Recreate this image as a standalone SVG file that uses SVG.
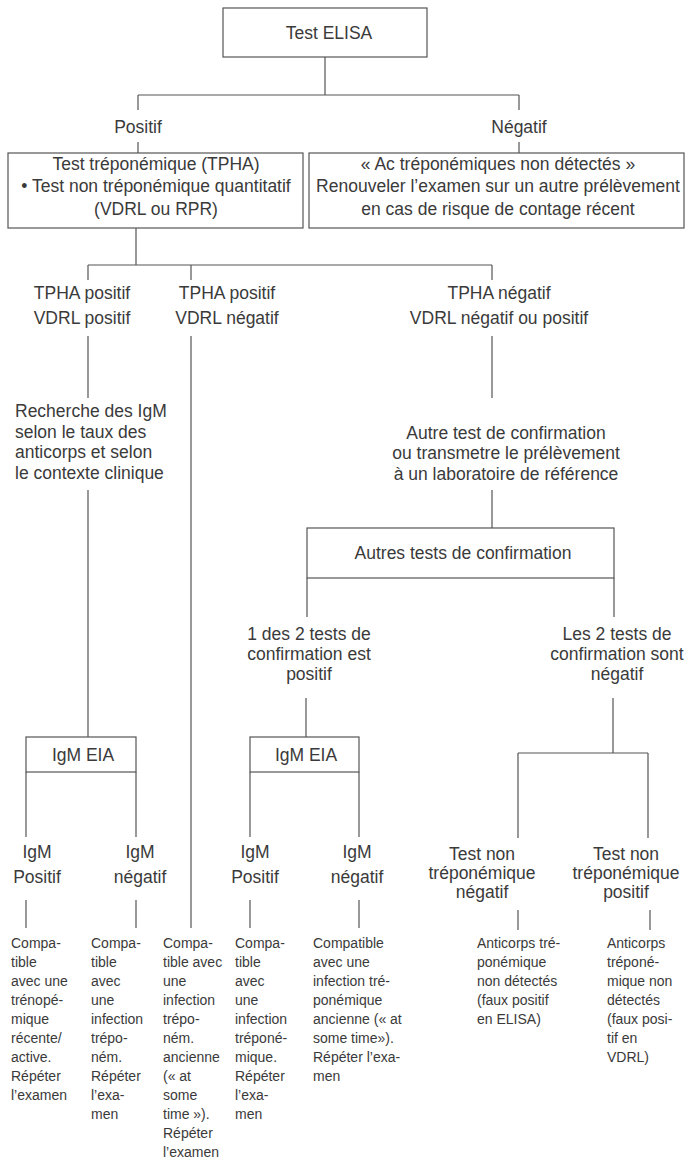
<svg xmlns="http://www.w3.org/2000/svg" width="687" height="1173" viewBox="0 0 687 1173">
<style>
.box{fill:none;stroke:#555;stroke-width:1.2}
.ln{fill:none;stroke:#555;stroke-width:1.2}
text{font-family:"Liberation Sans",Arial,sans-serif;fill:#3a3a3a}
.h{font-size:17.5px;text-anchor:middle}
.hl{font-size:17.5px}
.s{font-size:14px}
</style>
<rect width="687" height="1173" fill="#ffffff"/>
<g id="connectors">
<path class="ln" d="M325 57V95M138 95H519M138 95V110M519 95V110M138 142V153M519 142V153"/>
<path class="ln" d="M136 228V265M88 265H492M88 265V280M191 265V280M492 265V280"/>
<path class="ln" d="M88 336V398M88 490V737M191 336V928M492 336V398M492 490V528"/>
<path class="ln" d="M307 578V617M614 578V617M306 698V737M613 698V753M518 753H648M518 753V838M648 753V838"/>
<path class="ln" d="M26 772V837M136 772V837M250 772V837M359 772V837"/>
<path class="ln" d="M26 900V928M136 900V928M250 900V928M359 900V928M518 910V930M650 910V930"/>
</g>
<g id="elisa"><rect class="box" x="223" y="8" width="204" height="49"/><text class="h" x="329" y="39">Test ELISA</text></g>
<g id="positif"><text class="h" x="138" y="133">Positif</text></g>
<g id="negatif"><text class="h" x="519" y="133">Négatif</text></g>
<g id="tpha-box"><rect class="box" x="8" y="153" width="295" height="75"/>
<text class="h" x="156" y="170">Test tréponémique (TPHA)</text>
<text class="h" x="156" y="192">• Test non tréponémique quantitatif</text>
<text class="h" x="156" y="215">(VDRL ou RPR)</text></g>
<g id="neg-box"><rect class="box" x="309" y="153" width="375" height="75"/>
<text class="h" x="498" y="170">« Ac tréponémiques non détectés »</text>
<text class="h" x="498" y="192">Renouveler l’examen sur un autre prélèvement</text>
<text class="h" x="498" y="215">en cas de risque de contage récent</text></g>
<g id="pp"><text class="h" x="82" y="299">TPHA positif</text><text class="h" x="82" y="324">VDRL positif</text></g>
<g id="pn"><text class="h" x="227" y="299">TPHA positif</text><text class="h" x="227" y="324">VDRL négatif</text></g>
<g id="nn"><text class="h" x="499" y="299">TPHA négatif</text><text class="h" x="499" y="324">VDRL négatif ou positif</text></g>
<g id="recherche"><text class="hl" x="15" y="417">Recherche des IgM</text><text class="hl" x="15" y="438">selon le taux des</text><text class="hl" x="15" y="458">anticorps et selon</text><text class="hl" x="15" y="479">le contexte clinique</text></g>
<g id="autre"><text class="h" x="506" y="439">Autre test de confirmation</text><text class="h" x="506" y="459">ou transmetre le prélèvement</text><text class="h" x="506" y="480">à un laboratoire de référence</text></g>
<g id="autres-box"><rect class="box" x="307" y="528" width="307" height="50"/><text class="h" x="463" y="559">Autres tests de confirmation</text></g>
<g id="un-des-2"><text class="h" x="309" y="640">1 des 2 tests de</text><text class="h" x="309" y="660">confirmation est</text><text class="h" x="309" y="680">positif</text></g>
<g id="les-2"><text class="h" x="617" y="640">Les 2 tests de</text><text class="h" x="617" y="660">confirmation sont</text><text class="h" x="617" y="680">négatif</text></g>
<g id="igm1"><rect class="box" x="26" y="737" width="110" height="35"/><text class="h" x="83" y="761">IgM EIA</text></g>
<g id="igm2"><rect class="box" x="250" y="737" width="109" height="35"/><text class="h" x="306" y="761">IgM EIA</text></g>
<g id="igm1p"><text class="h" x="37" y="858">IgM</text><text class="h" x="37" y="883">Positif</text></g>
<g id="igm1n"><text class="h" x="140" y="858">IgM</text><text class="h" x="140" y="883">négatif</text></g>
<g id="igm2p"><text class="h" x="255" y="858">IgM</text><text class="h" x="255" y="883">Positif</text></g>
<g id="igm2n"><text class="h" x="357" y="858">IgM</text><text class="h" x="357" y="883">négatif</text></g>
<g id="tnt-neg"><text class="h" x="482" y="860">Test non</text><text class="h" x="482" y="879">tréponémique</text><text class="h" x="482" y="898">négatif</text></g>
<g id="tnt-pos"><text class="h" x="626" y="860">Test non</text><text class="h" x="626" y="879">tréponémique</text><text class="h" x="626" y="898">positif</text></g>
<g id="c1" class="s"><text x="11" y="948">Compa-</text><text x="11" y="967">tible</text><text x="11" y="986">avec une</text><text x="11" y="1005">trénopé-</text><text x="11" y="1024">mique</text><text x="11" y="1043">récente/</text><text x="11" y="1062">active.</text><text x="11" y="1081">Répéter</text><text x="11" y="1100">l’examen</text></g>
<g id="c2" class="s"><text x="91" y="948">Compa-</text><text x="91" y="967">tible</text><text x="91" y="986">avec</text><text x="91" y="1005">une</text><text x="91" y="1024">infection</text><text x="91" y="1043">trépo-</text><text x="91" y="1062">ném.</text><text x="91" y="1081">Répéter</text><text x="91" y="1100">l’exa-</text><text x="91" y="1119">men</text></g>
<g id="c3" class="s"><text x="163" y="948">Compa-</text><text x="163" y="967">tible avec</text><text x="163" y="986">une</text><text x="163" y="1005">infection</text><text x="163" y="1024">trépo-</text><text x="163" y="1043">ném.</text><text x="163" y="1062">ancienne</text><text x="163" y="1081">(« at</text><text x="163" y="1100">some</text><text x="163" y="1119">time »).</text><text x="163" y="1138">Répéter</text><text x="163" y="1157">l’examen</text></g>
<g id="c4" class="s"><text x="235" y="948">Compa-</text><text x="235" y="967">tible</text><text x="235" y="986">avec</text><text x="235" y="1005">une</text><text x="235" y="1024">infection</text><text x="235" y="1043">tréponé-</text><text x="235" y="1062">mique.</text><text x="235" y="1081">Répéter</text><text x="235" y="1100">l’exa-</text><text x="235" y="1119">men</text></g>
<g id="c5" class="s"><text x="313" y="948">Compatible</text><text x="313" y="967">avec une</text><text x="313" y="986">infection tré-</text><text x="313" y="1005">ponémique</text><text x="313" y="1024">ancienne (« at</text><text x="313" y="1043">some time»).</text><text x="313" y="1062">Répéter l’exa-</text><text x="313" y="1081">men</text></g>
<g id="c6" class="s"><text x="477" y="948">Anticorps tré-</text><text x="477" y="967">ponémique</text><text x="477" y="986">non détectés</text><text x="477" y="1005">(faux positif</text><text x="477" y="1024">en ELISA)</text></g>
<g id="c7" class="s"><text x="607" y="948">Anticorps</text><text x="607" y="967">tréponé-</text><text x="607" y="986">mique non</text><text x="607" y="1005">détectés</text><text x="607" y="1024">(faux posi-</text><text x="607" y="1043">tif en</text><text x="607" y="1062">VDRL)</text></g>
</svg>
